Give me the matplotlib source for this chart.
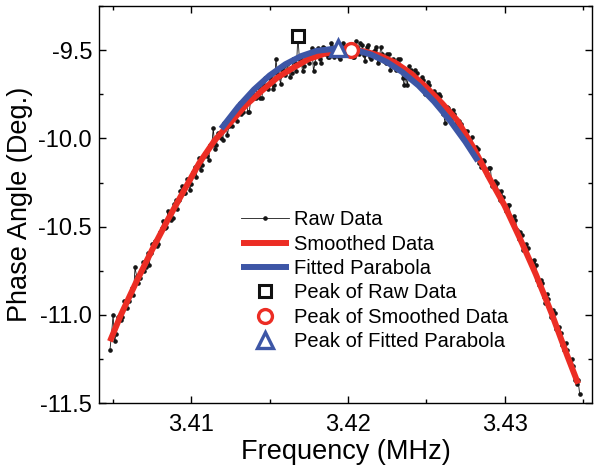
import matplotlib
matplotlib.use("Agg")
import matplotlib.pyplot as plt
import numpy as np
from matplotlib.ticker import MultipleLocator, FormatStrFormatter

plt.rcParams["font.family"] = ["Liberation Sans", "DejaVu Sans"]
plt.rcParams["axes.unicode_minus"] = False

# raw sweep: 301 samples from 3.4048 to 3.4348 MHz (step 0.1 kHz)
raw_start, raw_stop = 3.4048, 3.4348
raw_phase = [
    -11.20, -11.11, -11.00, -11.15, -11.11, -11.01, -11.01, -11.03, -11.01, -10.92,
    -10.92, -10.96, -10.92, -10.88, -10.85, -10.89, -10.73, -10.78, -10.82, -10.79,
    -10.75, -10.70, -10.75, -10.73, -10.65, -10.72, -10.65, -10.60, -10.59, -10.58,
    -10.61, -10.60, -10.53, -10.51, -10.47, -10.51, -10.50, -10.41, -10.42, -10.46,
    -10.45, -10.37, -10.35, -10.40, -10.35, -10.30, -10.27, -10.31, -10.31, -10.23,
    -10.25, -10.29, -10.26, -10.19, -10.16, -10.22, -10.16, -10.11, -10.18, -10.15,
    -10.10, -10.08, -10.10, -10.12, -10.04, -10.04, -9.94, -10.06, -10.04, -9.97,
    -9.97, -10.00, -10.01, -9.91, -9.92, -9.98, -9.93, -9.90, -9.93, -9.85,
    -9.84, -9.90, -9.85, -9.80, -9.86, -9.85, -9.79, -9.78, -9.85, -9.85,
    -9.77, -9.74, -9.77, -9.77, -9.71, -9.71, -9.77, -9.77, -9.70, -9.66,
    -9.71, -9.72, -9.66, -9.64, -9.72, -9.70, -9.55, -9.63, -9.65, -9.69,
    -9.61, -9.59, -9.64, -9.61, -9.57, -9.65, -9.63, -9.55, -9.57, -9.62,
    -9.42, -9.55, -9.55, -9.62, -9.59, -9.52, -9.52, -9.57, -9.54, -9.49,
    -9.62, -9.57, -9.50, -9.49, -9.55, -9.57, -9.48, -9.49, -9.52, -9.54,
    -9.54, -9.46, -9.48, -9.54, -9.50, -9.49, -9.54, -9.55, -9.47, -9.46,
    -9.48, -9.51, -9.52, -9.47, -9.47, -9.54, -9.54, -9.45, -9.48, -9.52,
    -9.46, -9.47, -9.53, -9.56, -9.48, -9.47, -9.54, -9.55, -9.51, -9.50,
    -9.48, -9.57, -9.55, -9.48, -9.52, -9.56, -9.57, -9.52, -9.52, -9.61,
    -9.56, -9.55, -9.59, -9.61, -9.55, -9.55, -9.62, -9.66, -9.70, -9.65,
    -9.70, -9.59, -9.61, -9.67, -9.67, -9.61, -9.63, -9.69, -9.68, -9.65,
    -9.67, -9.75, -9.74, -9.68, -9.70, -9.76, -9.76, -9.73, -9.75, -9.81,
    -9.75, -9.76, -9.83, -9.86, -9.91, -9.82, -9.83, -9.89, -9.89, -9.84,
    -9.86, -9.92, -9.93, -9.90, -9.92, -9.99, -10.00, -9.96, -9.96, -10.04,
    -10.02, -9.99, -10.07, -10.08, -10.05, -10.06, -10.14, -10.16, -10.12, -10.13,
    -10.18, -10.21, -10.17, -10.17, -10.27, -10.27, -10.24, -10.25, -10.30, -10.35,
    -10.30, -10.33, -10.39, -10.41, -10.38, -10.38, -10.46, -10.47, -10.44, -10.46,
    -10.52, -10.57, -10.53, -10.55, -10.63, -10.64, -10.60, -10.62, -10.69, -10.71,
    -10.70, -10.69, -10.72, -10.80, -10.83, -10.80, -10.82, -10.90, -10.93, -10.88,
    -10.91, -10.97, -11.01, -10.97, -10.99, -11.08, -11.08, -11.07, -11.10, -11.17,
    -11.20, -11.16, -11.20, -11.26, -11.28, -11.25, -11.29, -11.37, -11.39, -11.37,
    -11.45,
]

smooth_freq = [3.4048, 3.4055, 3.4065, 3.4075, 3.4085, 3.4095, 3.4105, 3.4115,
               3.4125, 3.4135, 3.4145, 3.4155, 3.4165, 3.4175, 3.4185, 3.4195,
               3.4202, 3.4210, 3.4220, 3.4230, 3.4240, 3.4250, 3.4260, 3.4270,
               3.4280, 3.4290, 3.4300, 3.4310, 3.4320, 3.4330, 3.4340, 3.4347]
smooth_phase = [-11.15, -11.00, -10.81, -10.63, -10.46, -10.30, -10.14, -10.01,
                -9.91, -9.81, -9.73, -9.655, -9.60, -9.55, -9.52, -9.503,
                -9.50, -9.506, -9.53, -9.57, -9.63, -9.71, -9.80, -9.90,
                -10.05, -10.22, -10.38, -10.57, -10.77, -10.99, -11.23, -11.39]

fit_freq = [3.4119, 3.4130, 3.4140, 3.4150, 3.4160, 3.4170, 3.4180, 3.4194,
            3.4205, 3.4215, 3.4225, 3.4235, 3.4245, 3.4255, 3.4265, 3.4275, 3.4283]
fit_phase = [-9.945, -9.820, -9.723, -9.643, -9.580, -9.534, -9.504, -9.489,
             -9.499, -9.526, -9.568, -9.626, -9.700, -9.791, -9.897, -10.019, -10.128]

peak_raw = (3.4168, -9.42)
peak_smooth = (3.4202, -9.50)
peak_fit = (3.41936, -9.489)

raw_freq = np.linspace(raw_start, raw_stop, len(raw_phase))

fig = plt.figure(figsize=(6.0, 4.66), dpi=100)
ax = fig.add_axes([0.165, 0.135, 0.822, 0.852])

red = "#ec2d24"
blue = "#3d56a6"

ax.plot(raw_freq, raw_phase, color="#151515", lw=0.6, marker="o", ms=2.3,
        label="Raw Data", zorder=2)
ax.plot(smooth_freq, smooth_phase, color=red, lw=4.3, solid_capstyle="butt",
        label="Smoothed Data", zorder=3)
ax.plot(fit_freq, fit_phase, color=blue, lw=4.3, solid_capstyle="butt",
        label="Fitted Parabola", zorder=4)
ax.plot(*peak_raw, ls="none", marker="s", ms=9, mfc="white", mec="#111111",
        mew=2.2, label="Peak of Raw Data", zorder=5)
ax.plot(*peak_smooth, ls="none", marker="o", ms=10, mfc="white", mec=red,
        mew=2.4, label="Peak of Smoothed Data", zorder=5)
ax.plot(*peak_fit, ls="none", marker="^", ms=11, mfc="white", mec=blue,
        mew=2.4, label="Peak of Fitted Parabola", zorder=6)

ax.set_xlim(3.4041, 3.4356)
ax.set_ylim(-11.5, -9.25)
ax.xaxis.set_major_locator(MultipleLocator(0.01))
ax.xaxis.set_minor_locator(MultipleLocator(0.005))
ax.yaxis.set_major_locator(MultipleLocator(0.5))
ax.yaxis.set_minor_locator(MultipleLocator(0.25))
ax.xaxis.set_major_formatter(FormatStrFormatter("%.2f"))
ax.yaxis.set_major_formatter(FormatStrFormatter("%.1f"))

ax.tick_params(which="both", direction="in", top=True, right=True, width=1.0)
ax.tick_params(which="major", length=5, labelsize=17)
ax.tick_params(axis="x", which="major", pad=8)
ax.tick_params(axis="y", which="major", pad=5)
ax.tick_params(which="minor", length=3)
for s in ax.spines.values():
    s.set_linewidth(1.0)

ax.set_xlabel("Frequency (MHz)", fontsize=19.5, labelpad=2)
ax.set_ylabel("Phase Angle (Deg.)", fontsize=19.5, labelpad=4)

ax.legend(loc="upper left", bbox_to_anchor=(0.288, 0.486), frameon=False,
          fontsize=14.5, borderpad=0, handlelength=2.4, handletextpad=0.25,
          labelspacing=0.27, borderaxespad=0)

plt.savefig("out.png", dpi=100)
